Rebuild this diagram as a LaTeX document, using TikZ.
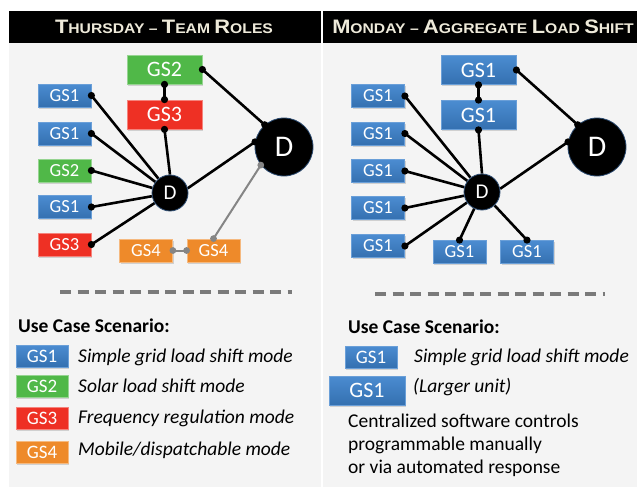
\documentclass[tikz,border=0pt]{standalone}
\usepackage{fontspec}
\setmainfont{Carlito}
\newfontfamily\hdfont{Liberation Sans}
\usetikzlibrary{shadows}
\pgfdeclarelayer{back}
\pgfdeclarelayer{links}
\pgfsetlayers{back,links,main}
\definecolor{panelbg}{HTML}{F4F4F4}
\definecolor{gsblueT}{HTML}{4B8CD1}
\definecolor{gsblueB}{HTML}{3470B0}
\definecolor{gsblueD}{HTML}{6A9FD8}
\definecolor{gsgreen}{HTML}{50B848}
\definecolor{gsred}{HTML}{EE3024}
\definecolor{gsorange}{HTML}{EE8A2A}
\definecolor{hdtext}{HTML}{EEEADA}
\definecolor{dashgray}{HTML}{7A7A7A}
\definecolor{linkgray}{HTML}{858585}
\definecolor{hubedge}{HTML}{2B4A70}
\newcommand\hbig[1]{{\fontsize{19.5}{20}\selectfont #1}}
\begin{document}
\begin{tikzpicture}[x=1pt,y=-1pt,
  gsbox/.style={rectangle, inner sep=0pt, text=white, line width=0.8pt,
    drop shadow={opacity=0.3, shadow xshift=1pt, shadow yshift=-1.5pt}},
  bluebox/.style={gsbox, top color=gsblueT, bottom color=gsblueB, draw=gsblueD},
  greenbox/.style={gsbox, fill=gsgreen, draw=gsgreen!60!white},
  redbox/.style={gsbox, fill=gsred, draw=gsred!60!white},
  orangebox/.style={gsbox, fill=gsorange, draw=gsorange!60!white},
  gssmall/.style={minimum width=53pt, minimum height=23pt, font=\fontsize{18.5}{18.5}\selectfont},
  gslarge/.style={minimum width=75pt, minimum height=29pt, font=\fontsize{22}{22}\selectfont},
  gskey/.style={minimum width=52pt, minimum height=22pt, font=\fontsize{19}{19}\selectfont},
  hubsmall/.style={circle, fill=black, draw=hubedge, line width=0.8pt, text=white, inner sep=0pt, minimum size=36pt, font=\fontsize{21}{21}\selectfont},
  hubbig/.style={circle, fill=black, draw=hubedge, line width=0.8pt, text=white, inner sep=0pt, minimum size=58pt, font=\fontsize{30}{30}\selectfont},
  link/.style={line width=2.6pt, black},
  glink/.style={line width=2pt, linkgray},
  header/.style={text=hdtext, inner sep=0pt, anchor=base, font=\hdfont\bfseries\fontsize{14}{16}\selectfont},
  legtext/.style={inner sep=0pt, anchor=base west, font=\fontsize{19.5}{20}\selectfont},
  dashline/.style={dashgray, line width=3.5pt, dash pattern=on 11pt off 6.5pt}
]
\useasboundingbox (0,0) rectangle (637,487);
\begin{pgfonlayer}{back}
  \fill[white] (0,0) rectangle (637,487);
  \fill[panelbg] (9,43) rectangle (321,487);
  \fill[panelbg] (323,43) rectangle (637,487);
  \fill[black] (9,11) rectangle (321,43);
  \fill[black] (323,11) rectangle (637,43);
\end{pgfonlayer}

% headers
\node[header] (LH) at (164,34) {\scalebox{1.12}[1]{\hbig{T}HURSDAY – \hbig{T}EAM \hbig{R}OLES}};
\begin{scope}
  \clip (323,11) rectangle (637,43);
  \node[header] (RH) at (483,34) {\scalebox{1.12}[1]{\hbig{M}ONDAY – \hbig{A}GGREGATE \hbig{L}OAD \hbig{S}HIFT}};
\end{scope}

% ---------------- left panel ----------------
\node[greenbox, gslarge] (Lt1) at (164.5,69.5) {GS2};
\node[redbox, gslarge] (Lt2) at (164.5,114.5) {GS3};
\node[bluebox, gssmall] (La1) at (64.5,95.5) {GS1};
\node[bluebox, gssmall] (La2) at (64.5,133.5) {GS1};
\node[greenbox, gssmall] (La3) at (64.5,170.5) {GS2};
\node[bluebox, gssmall] (La4) at (64.5,207) {GS1};
\node[redbox, gssmall] (La5) at (64.5,244.5) {GS3};
\node[orangebox, gssmall] (Lg1) at (146,250.5) {GS4};
\node[orangebox, gssmall] (Lg2) at (213.5,250.5) {GS4};
\node[hubsmall] (LD) at (170,193) {D};
\node[hubbig] (LB) at (284,147) {D};

\begin{pgfonlayer}{links}
  \draw[link] (Lt1.east) -- (LB.131);
  \draw[link] (Lt1.south) -- (Lt2.north);
  \draw[link] (Lt2.south) -- (LD.north);
  \draw[link] (La1.east) -- (LD);
  \draw[link] (La2.east) -- (LD);
  \draw[link] (La3.east) -- (LD);
  \draw[link] (La4.east) -- (LD);
  \draw[link] (La5.east) -- (LD);
  \draw[link] (LD.15) -- (LB.170);
  \draw[glink] (LB.218) -- (Lg2.north);
  \draw[glink] (Lg1.east) -- (Lg2.west);
\end{pgfonlayer}
\foreach \a in {Lt1.east, Lt1.south, Lt2.north, Lt2.south, La1.east, La2.east, La3.east, La4.east, La5.east, LB.131, LB.170}
  \fill[black] (\a) circle (3.6pt);
\foreach \a in {LB.218, Lg2.north, Lg1.east, Lg2.west}
  \fill[linkgray] (\a) circle (3.4pt);

% ---------------- right panel ----------------
\node[bluebox, gslarge] (Rt1) at (478.5,70) {GS1};
\node[bluebox, gslarge] (Rt2) at (478.5,115) {GS1};
\node[bluebox, gssmall] (Ra1) at (378,96) {GS1};
\node[bluebox, gssmall] (Ra2) at (378,133.5) {GS1};
\node[bluebox, gssmall] (Ra3) at (378,171) {GS1};
\node[bluebox, gssmall] (Ra4) at (378,208) {GS1};
\node[bluebox, gssmall] (Ra5) at (378,246) {GS1};
\node[bluebox, gssmall] (Rb1) at (459.5,252) {GS1};
\node[bluebox, gssmall] (Rb2) at (527,252) {GS1};
\node[hubsmall] (RD) at (482,192) {D};
\node[hubbig] (RB) at (597,147) {D};

\begin{pgfonlayer}{links}
  \draw[link] (Rt1.east) -- (RB.131);
  \draw[link] (Rt1.south) -- (Rt2.north);
  \draw[link] (Rt2.south) -- (RD.north);
  \draw[link] (Ra1.east) -- (RD);
  \draw[link] (Ra2.east) -- (RD);
  \draw[link] (Ra3.east) -- (RD);
  \draw[link] (Ra4.east) -- (RD);
  \draw[link] (Ra5.east) -- (RD);
  \draw[link] (Rb1.north) -- (RD);
  \draw[link] (Rb2.north) -- (RD);
  \draw[link] (RD.10) -- (RB.170);
\end{pgfonlayer}
\foreach \a in {Rt1.east, Rt1.south, Rt2.north, Rt2.south, Ra1.east, Ra2.east, Ra3.east, Ra4.east, Ra5.east, Rb1.north, Rb2.north, RB.131, RB.170}
  \fill[black] (\a) circle (3.6pt);

% ---------------- legends ----------------
\draw[dashline] (60,292) -- (292,292);
\draw[dashline] (375,294) -- (605,294);

\node[legtext, font=\bfseries\fontsize{19.5}{20}\selectfont] (LU) at (18,332) {Use Case Scenario:};
\node[bluebox, gskey] (Lk1) at (42,356) {GS1};
\node[greenbox, gskey] (Lk2) at (42,386) {GS2};
\node[redbox, gskey] (Lk3) at (42,418) {GS3};
\node[orangebox, gskey] (Lk4) at (42,452) {GS4};
\node[legtext, font=\itshape\fontsize{19.5}{20}\selectfont] (Lt1x) at (78,362) {Simple grid load shift mode};
\node[legtext, font=\itshape\fontsize{19.5}{20}\selectfont] (Lt2x) at (78,392) {Solar load shift mode};
\node[legtext, font=\itshape\fontsize{19.5}{20}\selectfont] (Lt3x) at (78,423) {Frequency regulation mode};
\node[legtext, font=\itshape\fontsize{19.5}{20}\selectfont] (Lt4x) at (78,455) {Mobile/dispatchable mode};

\node[legtext, font=\bfseries\fontsize{19.5}{20}\selectfont] (RU) at (348,333) {Use Case Scenario:};
\node[bluebox, gskey] (Rk1) at (371,357) {GS1};
\node[bluebox, gslarge, minimum width=76pt] (Rk2) at (367,390.5) {GS1};
\node[legtext, font=\itshape\fontsize{19.5}{20}\selectfont] (Rt1x) at (414,362) {Simple grid load shift mode};
\node[legtext, font=\itshape\fontsize{19.5}{20}\selectfont] (Rt2x) at (413,392) {(Larger unit)};
\node[legtext] (Rc1) at (348,427) {Centralized software controls};
\node[legtext] (Rc2) at (348,450) {programmable manually};
\node[legtext] (Rc3) at (348,473) {or via automated response};
\end{tikzpicture}
\end{document}
